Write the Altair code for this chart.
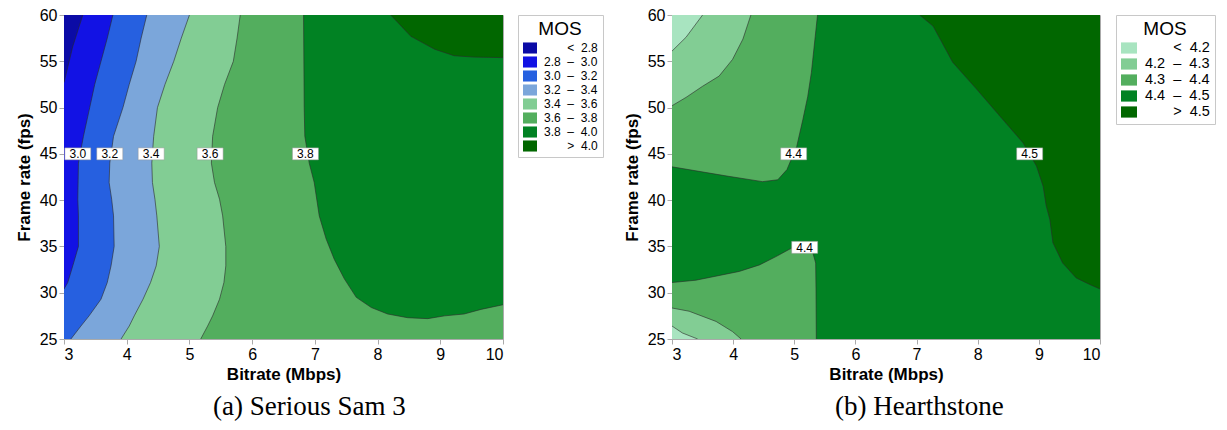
import altair as alt
import pandas as pd

NB = "\u00a0"
ZW = "\u200b"
X_DOMAIN = [3, 10]
Y_DOMAIN = [25, 60]
X_TICKS = [3, 4, 5, 6, 7, 8, 9, 10]
Y_TICKS = [25, 30, 35, 40, 45, 50, 55, 60]

# ---------------- (a) Serious Sam 3 ----------------
SS_LEVELS = [ZW + NB * 7 + "<" + NB * 2 + "2.8",
             "2.8" + NB * 2 + "\u2013" + NB * 2 + "3.0",
             "3.0" + NB * 2 + "\u2013" + NB * 2 + "3.2",
             "3.2" + NB * 2 + "\u2013" + NB * 2 + "3.4",
             "3.4" + NB * 2 + "\u2013" + NB * 2 + "3.6",
             "3.6" + NB * 2 + "\u2013" + NB * 2 + "3.8",
             "3.8" + NB * 2 + "\u2013" + NB * 2 + "4.0",
             ZW + NB * 7 + ">" + NB * 2 + "4.0"]
SS_COLORS = ["#0b0ba6", "#1212e4", "#2660e0", "#7ba6da",
             "#82cd94", "#53ae5e", "#018223", "#016700"]

# contours read as x(y)
SS_C28_Y = [52.7, 56.6, 60.0]
SS_C28_X = [3.00, 3.14, 3.30]
SS_C30_Y = [30.4, 31.1, 32.9, 35.0, 38.3, 40.1, 44.0, 46.9, 50.0, 52.5, 55.0, 57.5, 60.0]
SS_C30_X = [3.00, 3.06, 3.14, 3.23, 3.23, 3.22, 3.23, 3.31, 3.41, 3.49, 3.59, 3.69, 3.78]
SS_BAND_Y = [25.0, 26.4, 27.5, 29.3, 31.1, 32.9, 35.0, 38.3, 40.1, 41.9, 44.0, 46.9, 50.0, 52.5, 55.0, 57.5, 60.0]
SS_C32_X = [3.11, 3.27, 3.40, 3.59, 3.69, 3.75, 3.80, 3.79, 3.76, 3.72, 3.73, 3.79, 3.94, 4.04, 4.15, 4.23, 4.32]
SS_C34_X = [3.91, 4.04, 4.12, 4.26, 4.38, 4.47, 4.52, 4.48, 4.45, 4.41, 4.40, 4.43, 4.49, 4.61, 4.75, 4.87, 5.00]
SS_C36_X = [5.18, 5.29, 5.37, 5.48, 5.55, 5.58, 5.58, 5.53, 5.48, 5.40, 5.35, 5.37, 5.45, 5.56, 5.70, 5.76, 5.81]
# contours read as y(x)
SS_C38_X = [6.82, 6.83, 6.84, 6.91, 6.99, 7.07, 7.18, 7.31, 7.47, 7.66, 7.90, 8.16, 8.48, 8.80, 9.07, 9.38, 9.65, 10.0]
SS_C38_Y = [60.0, 50.0, 46.9, 44.0, 41.9, 38.3, 35.8, 33.6, 31.5, 29.5, 28.4, 27.7, 27.3, 27.2, 27.5, 27.7, 28.2, 28.7]
SS_C40_X = [8.21, 8.53, 8.91, 9.22, 9.54, 10.0]
SS_C40_Y = [60.0, 57.7, 56.3, 55.6, 55.45, 55.4]

SS_LABEL_TEXT = ["3.0", "3.2", "3.4", "3.6", "3.8"]
SS_LABEL_X = [3.22, 3.73, 4.39, 5.33, 6.85]
SS_LABEL_Y = [45.0, 45.0, 45.0, 45.0, 45.0]

# ---------------- (b) Hearthstone ----------------
HS_LEVELS = [ZW + NB * 7 + "<" + NB * 2 + "4.2",
             "4.2" + NB * 2 + "\u2013" + NB * 2 + "4.3",
             "4.3" + NB * 2 + "\u2013" + NB * 2 + "4.4",
             "4.4" + NB * 2 + "\u2013" + NB * 2 + "4.5",
             ZW + NB * 7 + ">" + NB * 2 + "4.5"]
HS_COLORS = ["#a8e4c0", "#82cd94", "#53ae5e", "#018223", "#016700"]

# all read as y(x)
HS_C42A_X = [3.00, 3.23, 3.50]
HS_C42A_Y = [56.1, 57.6, 60.0]
HS_C43A_X = [3.00, 3.23, 3.50, 3.77, 3.99, 4.16, 4.29]
HS_C43A_Y = [50.2, 51.1, 52.3, 53.4, 55.2, 57.4, 60.0]
HS_C44A_X = [3.00, 3.90, 4.48, 4.73, 4.88, 5.04, 5.14, 5.22, 5.28, 5.38]
HS_C44A_Y = [43.6, 42.6, 42.0, 42.2, 43.3, 45.8, 48.7, 51.2, 53.8, 60.0]
HS_C44B_X = [3.00, 3.39, 4.10, 4.43, 4.70, 4.95, 5.15, 5.30, 5.35, 5.355, 5.36]
HS_C44B_Y = [31.1, 31.35, 32.3, 33.0, 33.9, 34.8, 35.0, 34.4, 33.2, 30.5, 25.0]
HS_C43B_X = [3.00, 3.28, 3.72, 3.99, 4.13]
HS_C43B_Y = [28.35, 28.0, 26.9, 25.8, 25.0]
HS_C42B_X = [3.00, 3.17, 3.42]
HS_C42B_Y = [26.4, 25.65, 25.0]
HS_C45_X = [7.05, 7.27, 7.59, 7.98, 8.36, 8.74, 8.96, 9.07, 9.12, 9.18, 9.23, 9.39, 9.61, 9.83, 10.0]
HS_C45_Y = [60.0, 58.8, 54.9, 52.0, 49.1, 46.2, 43.7, 41.5, 39.4, 37.9, 35.4, 33.2, 31.6, 30.9, 30.4]

HS_LABEL_TEXT = ["4.4", "4.4", "4.5"]
HS_LABEL_X = [4.99, 5.17, 8.85]
HS_LABEL_Y = [45.0, 34.9, 45.0]

FONT = "Liberation Sans"
BOX_SHAPE = "M-1,-0.46H1V0.46H-1Z"


def xs():
    return alt.Scale(domain=X_DOMAIN, nice=False, zero=False)


def ys():
    return alt.Scale(domain=Y_DOMAIN, nice=False, zero=False)


def fill_enc(levels, colors, legend):
    return alt.Fill("band:N", scale=alt.Scale(domain=levels, range=colors), legend=legend)


def h_area(df, levels, colors):
    return alt.Chart(df).mark_area(orient="horizontal", opacity=1, clip=True).encode(
        y=alt.Y("y:Q", scale=ys(), stack=None),
        x=alt.X("x:Q", scale=xs(), stack=None), x2="x2:Q",
        fill=fill_enc(levels, colors, None))


def v_area(df, levels, colors):
    return alt.Chart(df).mark_area(orient="vertical", opacity=1, clip=True).encode(
        x=alt.X("x:Q", scale=xs(), stack=None),
        y=alt.Y("y:Q", scale=ys(), stack=None), y2="y2:Q",
        fill=fill_enc(levels, colors, None))


def build(levels, colors, legend, regions, contours, labels, width, title):
    layers = []
    bg_band = [r for r in regions if r[0] == "bg"][0][1]
    bg = pd.DataFrame({"x": [X_DOMAIN[0]], "x2": [X_DOMAIN[1]],
                       "y": [Y_DOMAIN[0]], "y2": [Y_DOMAIN[1]], "band": [levels[bg_band]]})
    layers.append(alt.Chart(bg).mark_rect(opacity=1).encode(
        x=alt.X("x:Q", scale=xs(), title="Bitrate (Mbps)",
                axis=alt.Axis(values=X_TICKS, format="d")),
        x2="x2:Q",
        y=alt.Y("y:Q", scale=ys(), title="Frame rate (fps)",
                axis=alt.Axis(values=Y_TICKS, format="d")),
        y2="y2:Q",
        fill=fill_enc(levels, colors, legend)))
    for r in regions:
        kind = r[0]
        if kind == "bg":
            continue
        band, xv, yv, other = r[1], r[2], r[3], r[4]
        if kind == "h":      # x from contour to the right edge value
            df = pd.DataFrame({"y": yv, "x": xv, "x2": [other] * len(yv), "band": levels[band]})
            layers.append(h_area(df, levels, colors))
        elif kind == "hl":   # x from the left edge value to contour
            df = pd.DataFrame({"y": yv, "x": [other] * len(yv), "x2": xv, "band": levels[band]})
            layers.append(h_area(df, levels, colors))
        else:                # vertical: y from contour to edge value
            df = pd.DataFrame({"x": xv, "y": yv, "y2": [other] * len(xv), "band": levels[band]})
            layers.append(v_area(df, levels, colors))
    rows = []
    for ci, (cx, cy) in enumerate(contours):
        for i, (a, b) in enumerate(zip(cx, cy)):
            rows.append({"c": ci, "i": i, "x": a, "y": b})
    cdf = pd.DataFrame(rows)
    layers.append(alt.Chart(cdf).mark_line(stroke="#2a2a2a", strokeWidth=0.6, clip=True).encode(
        x=alt.X("x:Q", scale=xs()), y=alt.Y("y:Q", scale=ys()),
        detail="c:N", order="i:Q"))
    ldf = pd.DataFrame({"t": labels[0], "x": labels[1], "y": labels[2]})
    layers.append(alt.Chart(ldf).mark_point(shape=BOX_SHAPE, size=676, filled=True,
                                            fill="white", stroke="#999999", strokeWidth=0.5,
                                            opacity=1).encode(
        x=alt.X("x:Q", scale=xs()), y=alt.Y("y:Q", scale=ys())))
    layers.append(alt.Chart(ldf).mark_text(font=FONT, fontSize=12, color="black", dy=0.5).encode(
        x=alt.X("x:Q", scale=xs()), y=alt.Y("y:Q", scale=ys()), text="t:N"))
    return alt.layer(*layers).properties(
        width=width, height=324,
        title=alt.TitleParams(title, orient="bottom", anchor="middle", frame="bounds",
                              font="Liberation Serif", fontSize=27, fontWeight="normal",
                              color="black", offset=12))


ss_legend = alt.Legend(title="MOS", titleFontSize=19, titleFontWeight="normal", titleAnchor="middle",
                       titleColor="black", labelFontSize=12, labelColor="black",
                       symbolType="M-1,-0.79H1V0.79H-1Z", symbolSize=196, symbolStrokeWidth=0,
                       symbolOpacity=1, labelOffset=7, rowPadding=1.0, titlePadding=2,
                       strokeColor="#c8c8c8", padding=5, offset=15, orient="right")
hs_legend = alt.Legend(title="MOS", titleFontSize=19, titleFontWeight="normal", titleAnchor="middle",
                       titleColor="black", labelFontSize=14.5, labelColor="black",
                       symbolType="M-1,-0.7H1V0.7H-1Z", symbolSize=256, symbolStrokeWidth=0,
                       symbolOpacity=1, labelOffset=8, rowPadding=1.0, titlePadding=1,
                       strokeColor="#c8c8c8", padding=5, offset=16, orient="right")

ss_regions = [
    ("bg", 1),
    ("hl", 0, SS_C28_X, SS_C28_Y, 3.0),
    ("h", 2, [3.0] + SS_C30_X, [25.0] + SS_C30_Y, 10.0),
    ("h", 3, SS_C32_X, SS_BAND_Y, 10.0),
    ("h", 4, SS_C34_X, SS_BAND_Y, 10.0),
    ("h", 5, SS_C36_X, SS_BAND_Y, 10.0),
    ("v", 6, SS_C38_X, SS_C38_Y, 60.0),
    ("v", 7, SS_C40_X, SS_C40_Y, 60.0),
]
ss_contours = [(SS_C28_X, SS_C28_Y), (SS_C30_X, SS_C30_Y), (SS_C32_X, SS_BAND_Y),
               (SS_C34_X, SS_BAND_Y), (SS_C36_X, SS_BAND_Y), (SS_C38_X, SS_C38_Y),
               (SS_C40_X, SS_C40_Y)]

hs_regions = [
    ("bg", 3),
    ("v", 2, HS_C44A_X, HS_C44A_Y, 60.0),
    ("v", 1, HS_C43A_X, HS_C43A_Y, 60.0),
    ("v", 0, HS_C42A_X, HS_C42A_Y, 60.0),
    ("v", 2, HS_C44B_X, HS_C44B_Y, 25.0),
    ("v", 1, HS_C43B_X, HS_C43B_Y, 25.0),
    ("v", 0, HS_C42B_X, HS_C42B_Y, 25.0),
    ("v", 4, HS_C45_X, HS_C45_Y, 60.0),
]
hs_contours = [(HS_C42A_X, HS_C42A_Y), (HS_C43A_X, HS_C43A_Y), (HS_C44A_X, HS_C44A_Y),
               (HS_C44B_X, HS_C44B_Y), (HS_C43B_X, HS_C43B_Y), (HS_C42B_X, HS_C42B_Y),
               (HS_C45_X, HS_C45_Y)]

left = build(SS_LEVELS, SS_COLORS, ss_legend, ss_regions, ss_contours,
             (SS_LABEL_TEXT, SS_LABEL_X, SS_LABEL_Y), 439, "(a) Serious Sam 3")
right = build(HS_LEVELS, HS_COLORS, hs_legend, hs_regions, hs_contours,
              (HS_LABEL_TEXT, HS_LABEL_X, HS_LABEL_Y), 428, "(b) Hearthstone")

chart = alt.hconcat(left, right, spacing=18).resolve_scale(fill="independent").properties(
    padding={"left": 6, "top": -2, "right": 0, "bottom": 0}
).configure_axis(
    labelFont=FONT, labelFontSize=16, labelColor="black",
    titleFont=FONT, titleFontSize=17, titleFontWeight="bold", titleColor="black",
    domainColor="#aaaaaa", tickColor="#aaaaaa", tickSize=5, grid=False, labelPadding=2
).configure_axisY(titlePadding=6).configure_axisX(titlePadding=4).configure_legend(
    labelFont=FONT, titleFont=FONT, fillColor="white"
).configure_view(stroke="#aaaaaa", strokeWidth=1)

chart.save("out.html", embed_options={"renderer": "svg", "actions": False})
